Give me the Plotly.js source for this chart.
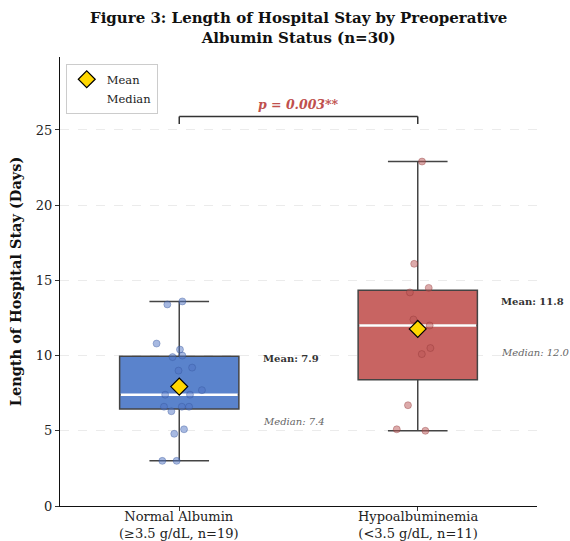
<!DOCTYPE html>
<html>
<head>
<meta charset="utf-8">
<script src="https://cdn.plot.ly/plotly-3.0.1.min.js"></script>
<style>html,body{margin:0;padding:0;background:#fff;}#chart{width:570px;height:541px;}</style>
</head>
<body>
<div id="chart"></div>
<script>
// ---- data ----
const categories = ["Normal Albumin<br>(≥3.5 g/dL, n=19)", "Hypoalbuminemia<br>(<3.5 g/dL, n=11)"];
const normalStay = [13.4, 13.6, 10.8, 10.4, 10.0, 9.9, 9.0, 9.2, 7.7, 7.4, 7.4, 6.6, 6.6, 6.6, 6.3, 5.1, 4.8, 3.0, 3.0];
const normalJitter = [-0.050, 0.013, -0.095, 0.003, 0.013, -0.028, -0.003, 0.054, 0.095, -0.059, 0.045, -0.064, 0.011, 0.041, -0.033, 0.020, -0.021, -0.071, -0.011];
const hypoStay = [22.9, 16.1, 14.5, 14.2, 12.4, 12.0, 10.5, 10.1, 6.7, 5.1, 5.0];
const hypoJitter = [0.018, -0.015, 0.046, -0.033, -0.018, 0.050, 0.053, 0.017, -0.041, -0.088, 0.032];
const pValueText = "p = 0.003**";
const titleText = "Figure 3: Length of Hospital Stay by Preoperative<br>Albumin Status (n=30)";

// ---- helpers ----
const mean = a => a.reduce((s, v) => s + v, 0) / a.length;
const median = a => { const s = [...a].sort((x, y) => x - y); const n = s.length; return n % 2 ? s[(n - 1) / 2] : (s[n / 2 - 1] + s[n / 2]) / 2; };

const groups = [
  {data: normalStay, jit: normalJitter, fill: "rgb(90,131,204)", pt: "rgba(80,115,195,0.5)", edge: "rgba(50,80,150,0.45)"},
  {data: hypoStay, jit: hypoJitter, fill: "rgb(200,100,98)", pt: "rgba(185,85,85,0.5)", edge: "rgba(140,50,50,0.45)"}
];

const serif = "DejaVu Serif, serif";
const traces = [];
const annotations = [];
const shapes = [];

groups.forEach((g, i) => {
  traces.push({
    type: "box", y: g.data, x0: i, name: categories[i], width: 0.5,
    boxpoints: false, quartilemethod: "inclusive", whiskerwidth: 0.5,
    fillcolor: g.fill, line: {color: "#444", width: 1.5},
    showlegend: false, hoverinfo: "skip"
  });
});
groups.forEach((g, i) => {
  const md = median(g.data);
  traces.push({
    type: "scatter", mode: "lines", x: [i - 0.245, i + 0.245], y: [md, md],
    line: {color: "white", width: 2.5}, showlegend: false, hoverinfo: "skip"
  });
});
groups.forEach((g, i) => {
  traces.push({
    type: "scatter", mode: "markers",
    x: g.data.map((v, k) => i + g.jit[k]), y: g.data,
    marker: {size: 7, color: g.pt, line: {color: g.edge, width: 0.8}},
    showlegend: false, hoverinfo: "y"
  });
});
traces.push({
  type: "scatter", mode: "markers", name: "Mean",
  x: [0, 1], y: groups.map(g => mean(g.data)),
  marker: {symbol: "diamond", size: 13, color: "#FFD700", line: {color: "black", width: 1.2}}
});
traces.push({
  type: "scatter", mode: "lines", name: "Median", x: [null], y: [null],
  line: {color: "white", width: 2.5}
});

groups.forEach((g, i) => {
  const m = mean(g.data), md = median(g.data);
  annotations.push({
    x: i + 0.345, y: m + (i === 0 ? 1.9 : 1.8), xref: "x", yref: "y", xanchor: "left", yanchor: "middle",
    text: "<b>Mean: " + m.toFixed(1) + "</b>", showarrow: false, borderpad: 0,
    font: {family: serif, size: 10, color: "#333"}
  });
  annotations.push({
    x: i + 0.345, y: md - (i === 0 ? 1.75 : 1.8), xref: "x", yref: "y", xanchor: "left", yanchor: "middle",
    text: "<i>Median: " + md.toFixed(1) + "</i>", showarrow: false, borderpad: 0,
    font: {family: serif, size: 10, color: "#666"}
  });
});

categories.forEach((c, i) => {
  annotations.push({
    x: i, y: 0, xref: "x", yref: "paper", xanchor: "center", yanchor: "top", yshift: -2,
    text: c, showarrow: false, borderpad: 0,
    font: {family: serif, size: 13, color: "#222"}
  });
});

annotations.push({
  x: 0.5, y: 1, xref: "paper", yref: "paper", xanchor: "center", yanchor: "middle", yshift: 29,
  text: "<b>" + titleText + "</b>", showarrow: false,
  font: {family: serif, size: 15, color: "#111"}
});

const bracketY = Math.max(...normalStay, ...hypoStay) + 3.0;
shapes.push({type: "line", xref: "x", yref: "y", x0: 0, x1: 0, y0: bracketY - 0.5, y1: bracketY, line: {color: "#333", width: 1.5}});
shapes.push({type: "line", xref: "x", yref: "y", x0: 0, x1: 1, y0: bracketY, y1: bracketY, line: {color: "#333", width: 1.5}});
shapes.push({type: "line", xref: "x", yref: "y", x0: 1, x1: 1, y0: bracketY - 0.5, y1: bracketY, line: {color: "#333", width: 1.5}});
annotations.push({
  x: 0.5, y: bracketY + 0.15, xref: "x", yref: "y", yanchor: "bottom",
  text: "<b><i>" + pValueText + "</i></b>", showarrow: false,
  font: {family: serif, size: 12.5, color: "#C0504D"}
});

const layout = {
  width: 570, height: 541,
  margin: {l: 60, r: 33, t: 57, b: 35},
  paper_bgcolor: "white", plot_bgcolor: "white",
  font: {family: serif, color: "#222"},
  xaxis: {
    range: [-0.5, 1.5], tickmode: "array", tickvals: [0, 1], ticktext: ["", ""],
    showgrid: false, zeroline: false, showline: true, linecolor: "#111", linewidth: 1.2,
    ticks: "outside", ticklen: 4, tickcolor: "#333"
  },
  yaxis: {
    range: [0, 29.85], tickvals: [0, 5, 10, 15, 20, 25],
    showgrid: true, gridcolor: "#ebebeb", griddash: "dash", gridwidth: 1,
    zeroline: false, showline: true, linecolor: "#111", linewidth: 1.2,
    ticks: "outside", ticklen: 4, tickcolor: "#333",
    tickfont: {family: serif, size: 13, color: "#222"},
    title: {text: "<b>Length of Hospital Stay (Days)</b>", font: {family: serif, size: 14.5, color: "#111"}, standoff: 10}
  },
  legend: {
    x: 0.012, y: 0.985, xanchor: "left", yanchor: "top",
    bgcolor: "white", bordercolor: "#ccc", borderwidth: 1,
    font: {family: serif, size: 11.5, color: "#222"},
    itemwidth: 30, tracegroupgap: 0
  },
  shapes: shapes,
  annotations: annotations,
  showlegend: true
};

Plotly.newPlot("chart", traces, layout, {displayModeBar: false, responsive: false});
</script>
</body>
</html>
